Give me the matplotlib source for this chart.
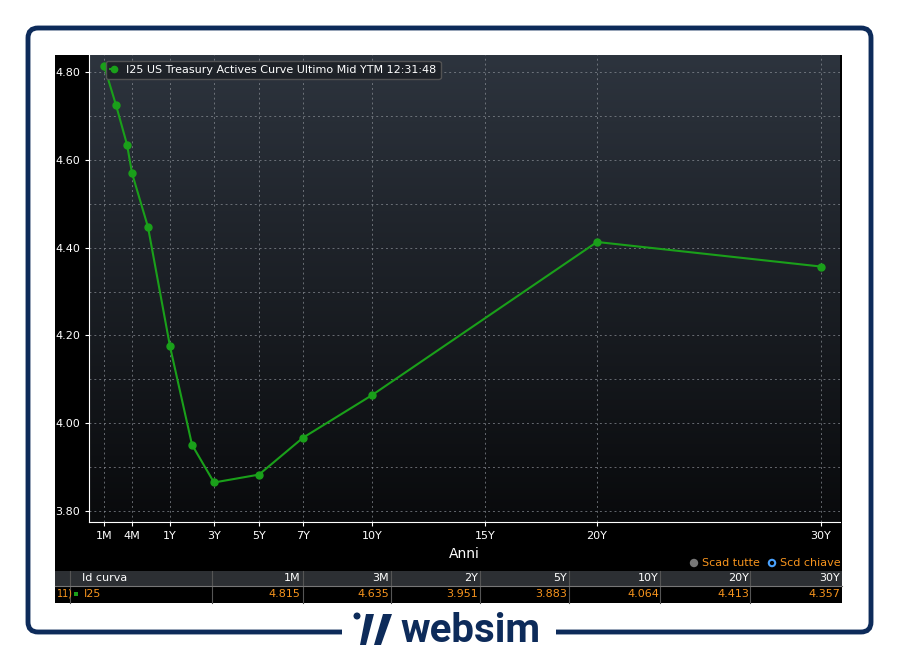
import numpy as np
import matplotlib.pyplot as plt
from matplotlib.colors import LinearSegmentedColormap
from matplotlib.patches import FancyBboxPatch, Rectangle, Polygon

# curve points (years, yield)
tenors = [1/12, 2/12, 3/12, 4/12, 6/12, 1, 2, 3, 5, 7, 10, 20, 30]
yields = [4.815, 4.725, 4.635, 4.570, 4.447, 4.175, 3.951, 3.865, 3.883, 3.967, 4.064, 4.413, 4.357]

tick_years = [1/12, 4/12, 1, 3, 5, 7, 10, 15, 20, 30]
tick_labels = ["1M", "4M", "1Y", "3Y", "5Y", "7Y", "10Y", "15Y", "20Y", "30Y"]

table_cols = ["1M", "3M", "2Y", "5Y", "10Y", "20Y", "30Y"]
table_vals = ["4.815", "4.635", "3.951", "3.883", "4.064", "4.413", "4.357"]

# non-linear maturity axis (knots read from the screen)
kx = np.array([0, 1/12, 0.1667, 0.25, 1/3, 0.5, 1, 2, 3, 5, 7, 10, 15, 20, 30, 30.85])
kp = np.array([89, 104, 116, 127, 132, 148, 170, 192, 214, 259, 303, 372, 485, 597, 821, 840.0])
fwd = lambda x: np.interp(x, kx, kp)
inv = lambda p: np.interp(p, kp, kx)

W, H = 898, 658
fig = plt.figure(figsize=(W/100, H/100), dpi=100)
fig.patch.set_facecolor("white")

def box(x0, y0, x1, y1):
    return [x0/W, 1 - y1/H, (x1-x0)/W, (y1-y0)/H]

bg = fig.add_axes([0, 0, 1, 1])
bg.set_xlim(0, W); bg.set_ylim(H, 0); bg.axis("off")
navy = "#0d2b5a"
orange = "#f7941d"
bg.add_patch(FancyBboxPatch((28, 28), 843, 604, boxstyle="round,pad=0,rounding_size=10",
                            fc="none", ec=navy, lw=3.5))
bg.add_patch(Rectangle((342, 620), 214, 25, fc="white", ec="none"))
bg.add_patch(Rectangle((55, 55), 787, 548, fc="black", ec="none"))
# logo
bg.add_patch(plt.Circle((357, 616), 2.8, color=navy))
bg.add_patch(Polygon([[366, 614], [374, 614], [366, 645], [360, 645]], fc=navy))
bg.add_patch(Polygon([[383, 614], [392, 614], [381, 645], [374, 645]], fc=navy))
bg.text(400, 631, "websim", fontsize=29, color=navy, fontweight="semibold",
        va="center", ha="left", family="Roboto")

ax = fig.add_axes(box(89, 55, 840, 522))
ax.set_facecolor("none")
grad = np.linspace(0, 1, 256).reshape(-1, 1)
ax.imshow(grad, extent=[0, 1, 0, 1], transform=ax.transAxes, aspect="auto",
          cmap=LinearSegmentedColormap.from_list("g", ["#090a0c", "#2d343e"]),
          origin="lower", zorder=0)
ax.set_xscale("function", functions=(fwd, inv))
ax.set_xlim(0, 30.85)
ax.set_ylim(3.775, 4.839)
ax.plot(tenors, yields, color="#1aa01a", lw=1.5, marker="o", ms=5, zorder=3,
        label="I25 US Treasury Actives Curve Ultimo Mid YTM 12:31:48")
ax.set_xticks(tick_years)
ax.set_xticklabels(tick_labels)
ax.set_yticks([3.8, 4.0, 4.2, 4.4, 4.6, 4.8])
ax.set_yticklabels(["3.80", "4.00", "4.20", "4.40", "4.60", "4.80"])
ax.set_yticks([3.9, 4.1, 4.3, 4.5, 4.7], minor=True)
ax.grid(True, which="both", color="#8a8f96", ls=(0, (2, 3)), lw=0.7, alpha=0.7)
ax.tick_params(colors="white", labelsize=8, length=3)
ax.tick_params(which="minor", length=0)
for s in ["top", "right"]:
    ax.spines[s].set_visible(False)
ax.spines["left"].set_color("white")
ax.spines["bottom"].set_color("white")
ax.set_xlabel("Anni", color="white", fontsize=10, labelpad=4)
leg = ax.legend(loc="upper left", bbox_to_anchor=(0.015, 1.0), fontsize=8, frameon=True,
                facecolor="#1e2227", edgecolor="#555", labelcolor="white",
                handlelength=0.6, markerscale=0.9)
leg.get_frame().set_alpha(0.95)

bg.add_patch(plt.Circle((694, 563), 3.5, color="#777"))
bg.text(702, 563, "Scad tutte", color=orange, fontsize=8, va="center", ha="left")
bg.add_patch(plt.Circle((772, 563), 3.2, fc="none", ec="#4aa3ff", lw=1.5))
bg.text(841, 563, "Scd chiave", color=orange, fontsize=8, va="center", ha="right")

# table
bg.add_patch(Rectangle((55, 571), 787, 15, fc="#2c2f33", ec="none"))
sep = [70, 212, 303, 391, 480, 569, 660, 750]
right = [300, 389, 478, 567, 659, 749, 840]
for x in sep:
    bg.plot([x, x], [571, 603], color="#555", lw=0.8)
bg.plot([55, 842], [586, 586], color="#777", lw=0.8)
bg.text(82, 578, "Id curva", color="white", fontsize=8, va="center")
bg.text(57, 594, "11)", color=orange, fontsize=7, va="center")
bg.add_patch(Rectangle((74, 592), 4, 4, fc="#1aa01a"))
bg.text(84, 594, "I25", color=orange, fontsize=8, va="center")
for c, v, r in zip(table_cols, table_vals, right):
    bg.text(r, 578, c, color="white", fontsize=8, va="center", ha="right")
    bg.text(r, 594, v, color=orange, fontsize=8, va="center", ha="right")

fig.savefig("out.png", dpi=100)
